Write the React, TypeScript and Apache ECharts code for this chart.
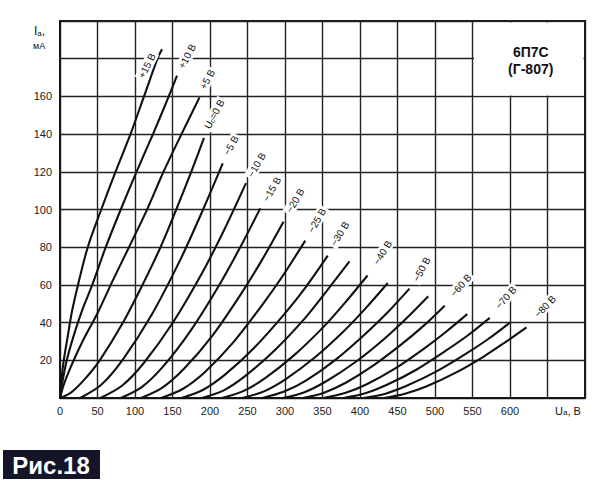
import React, { useEffect, useRef } from "react";
import * as echarts from "echarts";

// Axis ranges / ticks
const xMax = 700;
const yMax = 200;
const xTickStep = 50;
const yTickStep = 20;
const xLastLabel = 600;
const yFirstLabel = 20;
const yLastLabel = 160;

// Anode characteristics Ia(Ua) for grid voltages
const curveNames = [
  "+15", "+10", "+5", "0", "-5", "-10", "-15", "-20", "-25", "-30",
  "-35", "-40", "-45", "-50", "-55", "-60", "-65", "-70", "-75", "-80",
];

const c_p15 = [[0, 0], [2, 10], [5, 20], [10, 32], [16, 46], [24, 60], [37, 80], [55, 100], [74, 120], [94, 140], [112, 160], [130, 180], [136, 185]];
const c_p10 = [[0, 0], [3, 8], [9, 20], [19, 34], [30, 47], [43, 60], [61, 80], [81, 100], [102, 120], [124, 140], [145, 160], [156, 171]];
const c_p5 = [[0, 0], [5, 7], [15, 17], [30, 30], [50, 45], [70, 62], [92, 80], [115, 99], [138, 120], [162, 140], [186, 159.5]];
const c_0 = [[0, 0], [15, 3], [33, 10], [53, 20], [84, 40], [110, 60], [134, 80], [155, 100], [175, 120], [192, 138]];
const c_m5 = [[27, 0], [55, 7], [84, 20.5], [122, 44], [160, 73], [188, 97.5], [217, 124.5]];
const c_m10 = [[54, 0], [83, 6.6], [112, 18.7], [151, 40.3], [190, 66.7], [219, 89.3], [248, 114]];
const c_m15 = [[81, 0], [109, 5.8], [137, 16.5], [174, 35.6], [211, 59], [239, 79], [267, 100.6]];
const c_m20 = [[108, 0], [136, 5.4], [165, 15.4], [203, 33], [241, 55], [269, 73], [298, 93.5]];
const c_m25 = [[135, 0], [164, 4.9], [193, 13.7], [231, 29.5], [269, 49], [298, 65.4], [327, 83.5]];
const c_m30 = [[162, 0], [191, 4.4], [220, 12.4], [259, 26.7], [298, 44], [328, 59], [357, 75.5]];
const c_m35 = [[189, 0], [219, 4.2], [248, 12], [287, 25.6], [327, 42.5], [356, 57], [386, 72.5]];
const c_m40 = [[216, 0], [245, 3.8], [274, 10.7], [313, 23], [352, 38], [381, 51], [410, 65]];
const c_m45 = [[243, 0], [272, 3.5], [301, 10], [340, 21.6], [379, 35.7], [408, 47.8], [437, 61]];
const c_m50 = [[270, 0], [299, 3.4], [329, 9.5], [368, 20.5], [407, 34], [437, 45.5], [466, 58]];
const c_m55 = [[297, 0], [326, 3.1], [355, 8.9], [394, 19.1], [433, 31.6], [462, 42.3], [491, 54]];
const c_m60 = [[324, 0], [352, 2.8], [381, 8.1], [418, 17.3], [456, 28.7], [485, 38.4], [513, 49]];
const c_m65 = [[351, 0], [380, 2.6], [409, 7.3], [447, 15.7], [485, 26.1], [514, 34.9], [543, 44.5]];
const c_m70 = [[378, 0], [407, 2.5], [436, 7], [475, 15], [514, 25], [544, 33.3], [573, 42.5]];
const c_m75 = [[405, 0], [434, 2.3], [463, 6.6], [502, 14.1], [541, 23.4], [571, 31.3], [600, 40]];
const c_m80 = [[432, 0], [460, 2.2], [489, 6.2], [527, 13.3], [565, 22], [593, 29.4], [622, 37.5]];

const curves = [
  c_p15, c_p10, c_p5, c_0, c_m5, c_m10, c_m15, c_m20, c_m25, c_m30,
  c_m35, c_m40, c_m45, c_m50, c_m55, c_m60, c_m65, c_m70, c_m75, c_m80,
];

// Curve label texts (empty = unlabeled curve)
const curveLabels = [
  "+15 В", "+10 В", "+5 В", "{u|U}{s|с}{u|=0 В}", "−5 В", "−10 В", "−15 В", "−20 В", "−25 В", "−30 В",
  "", "−40 В", "", "−50 В", "", "−60 В", "", "−70 В", "", "−80 В",
];

// Label placement relative to each curve's end: [dx px, dy px, rotation deg]
const labelPlacement = [
  [-22, 30, 63], [3, -6, 62], [2, -7, 62], [2, -8, 62], [2, -7, 60], [3, -5, 60], [4, -6, 60], [4, -8, 60], [4, -7, 60], [4, -9, 58],
  [0, 0, 0], [7, -10, 58], [0, 0, 0], [5, -6, 62], [0, 0, 0], [6, -9, 48], [0, 0, 0], [6, -9, 48], [0, 0, 0], [8, -10, 46],
];

const titleLines = ["6П7С", "(Г-807)"];
const titleBoxFrom = 550; // Ua where the unruled title box starts
const titleBoxBottom = 160; // Ia where the title box ends
const figLabel = "Рис.18";

const FONT = "'Liberation Sans', Arial, sans-serif";

export default function App() {
  const ref = useRef<HTMLDivElement>(null);

  useEffect(() => {
    const el = ref.current;
    if (!el) return;
    const chart = echarts.init(el, undefined, { renderer: "svg" });

    const series = curves.map((d, i) => ({
      type: "line",
      name: curveNames[i],
      data: d,
      symbol: "none",
      showSymbol: false,
      smooth: 0.3,
      silent: true,
      z: 3,
      lineStyle: { color: "#111", width: 2.1 },
    }));

    chart.setOption({
      animation: false,
      backgroundColor: "#fff",
      grid: {
        left: 60,
        top: 21,
        width: 525,
        height: 377,
        show: true,
        borderColor: "#161616",
        borderWidth: 2,
      },
      xAxis: {
        type: "value",
        min: 0,
        max: xMax,
        interval: xTickStep,
        axisLine: { show: true, lineStyle: { color: "#161616", width: 2 } },
        axisTick: { show: false },
        axisLabel: {
          color: "#222",
          fontSize: 11,
          fontFamily: FONT,
          margin: 7,
          formatter: (v: number) => (v <= xLastLabel ? String(v) : ""),
        },
        splitLine: { show: true, lineStyle: { color: "#222", width: 1.4 } },
      },
      yAxis: {
        type: "value",
        min: 0,
        max: yMax,
        interval: yTickStep,
        axisLine: { show: true, lineStyle: { color: "#161616", width: 2 } },
        axisTick: { show: false },
        axisLabel: {
          color: "#222",
          fontSize: 11,
          fontFamily: FONT,
          margin: 8,
          formatter: (v: number) => (v >= yFirstLabel && v <= yLastLabel ? String(v) : ""),
        },
        splitLine: { show: true, lineStyle: { color: "#222", width: 1.4 } },
      },
      series,
    });

    const toPx = (p: number[]) => chart.convertToPixel({ gridIndex: 0 }, p) as number[];
    const graphics: any[] = [];

    // unruled title box in the upper right corner
    const tl = toPx([titleBoxFrom, yMax]);
    const br = toPx([xMax, titleBoxBottom]);
    graphics.push({
      type: "rect",
      z: 1,
      shape: { x: tl[0] + 1.5, y: tl[1] + 1.5, width: br[0] - tl[0] - 3, height: br[1] - tl[1] - 2.5 },
      style: { fill: "#fff" },
      silent: true,
    });
    const cx = (tl[0] + br[0]) / 2 + 2;
    titleLines.forEach((t, i) => {
      graphics.push({
        type: "text",
        z: 5,
        x: cx,
        y: tl[1] + 31 + i * 17,
        style: { text: t, fill: "#111", fontSize: 14, fontWeight: "bold", fontFamily: FONT, align: "center", verticalAlign: "middle" },
      });
    });

    // curve labels
    curves.forEach((d, i) => {
      const txt = curveLabels[i];
      if (!txt) return;
      const end = toPx(d[d.length - 1]);
      const [dx, dy, rot] = labelPlacement[i];
      graphics.push({
        type: "text",
        z: 10,
        x: end[0] + dx,
        y: end[1] + dy,
        rotation: (rot * Math.PI) / 180,
        style: {
          text: txt,
          fill: "#111",
          fontSize: 10,
          fontFamily: FONT,
          align: "left",
          verticalAlign: "middle",
          backgroundColor: "#fff",
          padding: [1, 2, 1, 2],
          rich: {
            u: { fontSize: 10, fontFamily: FONT, fill: "#111", verticalAlign: "middle" },
            s: { fontSize: 7, fontFamily: FONT, fill: "#111", verticalAlign: "bottom" },
          },
        },
      });
    });

    // axis titles
    graphics.push({
      type: "text",
      x: 34,
      y: 31,
      style: {
        text: "{b|I}{s|а}{b|,}",
        fill: "#111",
        align: "left",
        verticalAlign: "middle",
        rich: {
          b: { fontSize: 12, fontFamily: FONT, fill: "#111", verticalAlign: "middle" },
          s: { fontSize: 8, fontFamily: FONT, fill: "#111", verticalAlign: "bottom" },
        },
      },
    });
    graphics.push({
      type: "text",
      x: 33,
      y: 46,
      style: { text: "мА", fill: "#111", fontSize: 9, fontFamily: FONT, align: "left", verticalAlign: "middle" },
    });
    graphics.push({
      type: "text",
      x: 555,
      y: 411,
      style: {
        text: "{b|U}{s|а}{b|, В}",
        fill: "#111",
        align: "left",
        verticalAlign: "middle",
        rich: {
          b: { fontSize: 11, fontFamily: FONT, fill: "#111", verticalAlign: "middle" },
          s: { fontSize: 8, fontFamily: FONT, fill: "#111", verticalAlign: "bottom" },
        },
      },
    });

    // figure caption box
    graphics.push({
      type: "rect",
      shape: { x: 3, y: 450, width: 97, height: 29 },
      style: { fill: "#15152a" },
    });
    graphics.push({
      type: "text",
      x: 51,
      y: 465,
      style: { text: figLabel, fill: "#fff", fontSize: 24, fontWeight: "bold", fontFamily: FONT, align: "center", verticalAlign: "middle" },
    });

    chart.setOption({ graphic: graphics });

    return () => chart.dispose();
  }, []);

  return (
    <div
      ref={ref}
      style={{ position: "fixed", left: 0, top: 0, width: 603, height: 484, background: "#fff" }}
    />
  );
}
